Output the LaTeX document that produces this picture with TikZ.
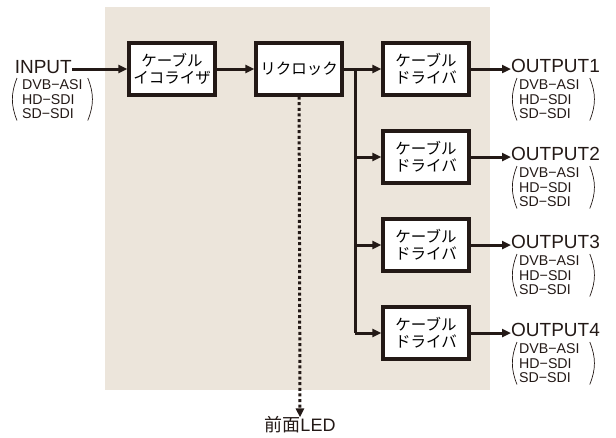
\documentclass[tikz,border=0pt]{standalone}
\usepackage{fontspec}
\setmainfont{Liberation Sans}
\newfontfamily\jpfont{Noto Sans CJK JP}
\usetikzlibrary{arrows.meta}
\definecolor{bgbeige}{RGB}{236,229,219}
\definecolor{ink}{RGB}{35,25,22}
\tikzset{
  >={Triangle[length=9pt,width=8pt]},
  blk/.style={draw=ink,line width=3.2pt,fill=white,minimum width=86pt,minimum height=52pt,
    font=\jpfont\fontsize{15.5}{17}\selectfont,align=center,inner sep=0pt},
  sig/.style={->,draw=ink,line width=3pt},
  port/.style={font=\fontsize{19}{19}\selectfont,inner sep=0pt,text=ink},
  fmt/.style={font=\fontsize{14.2}{14.5}\selectfont,align=left,inner xsep=2pt,inner ysep=1.5pt,text=ink},
  paren/.style={draw=ink,line width=0.7pt}
}
\begin{document}
\begin{tikzpicture}[x=1pt,y=-1pt]
    \useasboundingbox (0,0) rectangle (616,437);
    \fill [bgbeige] (105,7) rectangle (490,390);

    \node [blk] (eq) at (172,69) {ケーブル\\イコライザ};
    \node [blk] (reclk) at (299,69) {リクロック};
    \foreach \k/\y in {1/69,2/157,3/245,4/333}{
        \node [blk] (drv\k) at (426,\y) {ケーブル\\ドライバ};
    }

    \node [port,anchor=east] (inp) at (72,67) {INPUT};
    \node [fmt,anchor=north west] (inpfmt) at (20,78) {DVB−ASI\\HD−SDI\\SD−SDI};
    \draw [paren] ([xshift=-3pt]inpfmt.north west) to[bend right=22] ([xshift=-3pt]inpfmt.south west);
    \draw [paren] ([xshift=3pt]inpfmt.north east) to[bend left=22] ([xshift=3pt]inpfmt.south east);

    \draw [sig] (inp.east |- eq) -- (eq);
    \draw [sig] (eq) -- (reclk);
    \draw [sig] (reclk) -- (drv1);
    \coordinate (split) at (355,69);
    \draw [draw=ink,line width=3pt] (split) -- (split |- drv4);
    \foreach \k in {2,3,4}{
        \draw [sig] (split |- drv\k) -- (drv\k);
    }

    \foreach \k/\y in {1/66,2/154,3/242,4/330}{
        \node [port,anchor=west] (out\k) at (511,\y) {OUTPUT\k};
        \node [fmt,anchor=north west] (outfmt\k) at (517,\y+12) {DVB−ASI\\HD−SDI\\SD−SDI};
        \draw [paren] (outfmt\k.north west) to[bend right=22] (outfmt\k.south west);
        \draw [paren] ([xshift=8pt]outfmt\k.north east) to[bend left=22] ([xshift=8pt]outfmt\k.south east);
        \draw [sig] (drv\k) -- (out\k.west |- drv\k);
    }

    \node [port,font=\fontsize{18}{18}\selectfont] (led) at (300,425) {{\jpfont 前面}LED};
    \draw [->,draw=ink,line width=3pt,dash pattern=on 3pt off 2.6pt] (reclk) -- ([yshift=-1pt]led.north);
\end{tikzpicture}
\end{document}
